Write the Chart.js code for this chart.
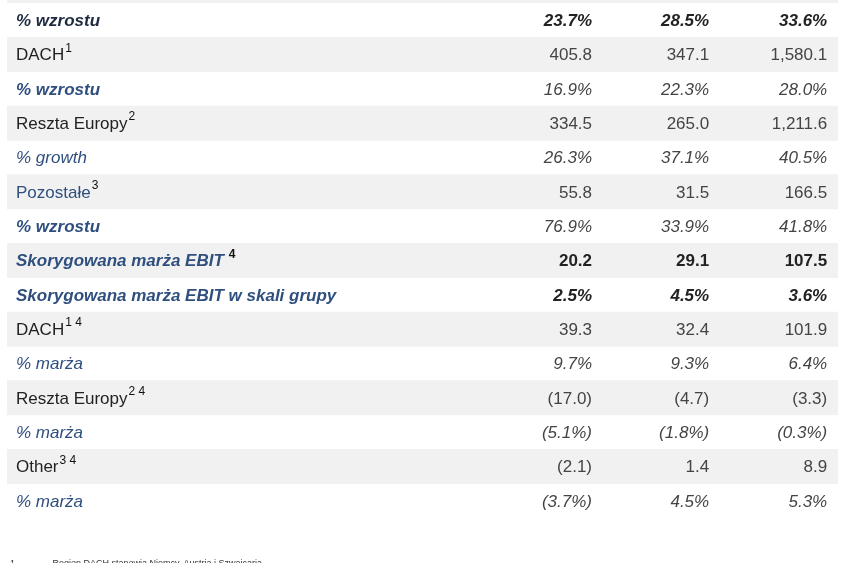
<!DOCTYPE html>
<html><head><meta charset="utf-8">
<script src="https://cdn.jsdelivr.net/npm/chart.js@4"></script>
<style>
html,body{margin:0;padding:0;background:#fff;overflow:hidden}
#wrap{position:relative;width:845px;height:563px;overflow:hidden}
#note{position:absolute;left:10px;top:558px;font:9px "Liberation Sans",Arial;color:#333;white-space:pre}
</style></head><body>
<div id="wrap"><canvas id="c" width="845" height="563"></canvas>
<div id="note">1               Region DACH stanowią Niemcy, Austria i Szwajcaria</div></div>
<script>
// etykiety wierszy i przypisy
const labels = ["% wzrostu","DACH","% wzrostu","Reszta Europy","% growth","Pozostałe","% wzrostu",
  "Skorygowana marża EBIT","Skorygowana marża EBIT w skali grupy","DACH","% marża","Reszta Europy","% marża","Other","% marża"];
const notes = ["","1","","2","","3","","4","","1 4","","2 4","","3 4",""];
const col1 = ["23.7%","405.8","16.9%","334.5","26.3%","55.8","76.9%","20.2","2.5%","39.3","9.7%","(17.0)","(5.1%)","(2.1)","(3.7%)"];
const col2 = ["28.5%","347.1","22.3%","265.0","37.1%","31.5","33.9%","29.1","4.5%","32.4","9.3%","(4.7)","(1.8%)","1.4","4.5%"];
const col3 = ["33.6%","1,580.1","28.0%","1,211.6","40.5%","166.5","41.8%","107.5","3.6%","101.9","6.4%","(3.3)","(0.3%)","8.9","5.3%"];
// styl etykiety i wartości: i = kursywa, b = pogrubiony
const labelStyle = ["bi","n","bi","n","i","n","bi","bi","bi","n","i","n","i","n","i"];
const valueStyle = ["bi","n","i","n","i","n","i","b","bi","n","i","n","i","n","i"];
const stripe = labels.map((l, i) => i % 2 === 1 ? [0, 1] : null);

const FONT = '"Liberation Sans", Arial, sans-serif';
const BLUE = "#2f4f7f";

function font(st, size) {
  return (st.includes("i") ? "italic " : "") + (st.includes("b") ? "bold " : "") + size + "px " + FONT;
}

const tablePlugin = {
  id: "table",
  afterDatasetsDraw(chart) {
    const ctx = chart.ctx, y = chart.scales.y, x = chart.scales.x;
    ctx.save();
    ctx.textBaseline = "middle";
    labels.forEach((lab, i) => {
      const yy = y.getPixelForValue(i) + 1;
      const ls = labelStyle[i], vs = valueStyle[i];
      ctx.textAlign = "left";
      ctx.font = font(ls, 17);
      ctx.fillStyle = (ls.includes("i") || lab === "Pozostałe") ? BLUE : "#222";
      if (i === 0) ctx.fillStyle = "#1e2a40";
      const lx = x.getPixelForValue(0) + 9;
      ctx.fillText(lab, lx, yy);
      if (notes[i]) {
        const w = ctx.measureText(lab).width;
        ctx.font = (ls.includes("b") ? "bold " : "") + "12px " + FONT;
        ctx.fillStyle = "#111";
        ctx.fillText(notes[i], lx + w + (ls.includes("b") ? 5 : 1), yy - 7);
      }
      // wartości
      ctx.textAlign = "right";
      ctx.font = font(vs, 17);
      ctx.fillStyle = vs.includes("b") ? "#222" : "#444";
      ctx.fillText(col1[i], x.getPixelForValue(0.704), yy);
      ctx.fillText(col2[i], x.getPixelForValue(0.845), yy);
      ctx.fillText(col3[i], x.getPixelForValue(0.987), yy);
    });
    ctx.restore();
  }
};

new Chart(document.getElementById("c"), {
  type: "bar",
  data: { labels: labels, datasets: [{ data: stripe, backgroundColor: "#f1f1f1",
    barPercentage: 1, categoryPercentage: 1, borderWidth: 0 }] },
  options: {
    indexAxis: "y", responsive: false, animation: false,
    layout: { padding: { left: 7, right: 7, top: 3, bottom: 45 } },
    plugins: { legend: { display: false }, tooltip: { enabled: false } },
    scales: {
      x: { min: 0, max: 1, display: false },
      y: { display: false, grid: { display: false } }
    }
  },
  plugins: [tablePlugin, {
    id: "topstripe",
    beforeDatasetsDraw(chart) {
      chart.ctx.fillStyle = "#f1f1f1";
      chart.ctx.fillRect(chart.chartArea.left, 0, chart.chartArea.width, 3);
    }
  }]
});
</script></body></html>
